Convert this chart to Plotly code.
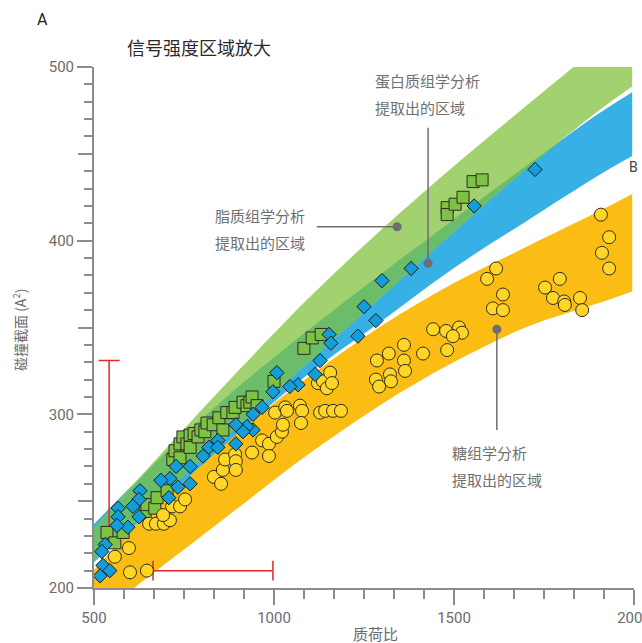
import numpy as np
import plotly.graph_objects as go

# ---------------- data ----------------
BAND_X = [500, 700, 900, 1100, 1300, 1500, 1700, 1900, 1995]
LIPID_UP = [234.5, 280.3, 324.9, 367.7, 406.7, 443.0, 477.5, 511.5, 527.0]
LIPID_LO = [216.1, 255.3, 293.3, 330.7, 367.8, 405.2, 441.2, 474.5, 488.7]
PROT_UP = [236.8, 278.3, 315.7, 349.3, 381.3, 412.4, 443.0, 472.9, 485.5]
PROT_LO = [215.0, 252.1, 289.3, 324.0, 353.9, 384.3, 411.1, 437.4, 448.7]
GLY_UP = [210.4, 254.0, 289.7, 322.2, 351.2, 375.6, 396.3, 416.6, 426.8]
GLY_LO = [182.3, 214.2, 246.1, 277.7, 306.0, 330.1, 350.1, 363.9, 370.8]

LIPID_X = [536, 558, 581, 642, 647, 669, 675, 703, 719, 725, 739, 739, 747, 758, 767, 767,
           778, 789, 797, 808, 814, 831, 847, 858, 869, 886, 892, 914, 925, 933, 939, 953,
           1000, 1083, 1106, 1131, 1481, 1481, 1503, 1525, 1553, 1578]
LIPID_Y = [232, 226, 232, 244, 248, 246, 252, 256, 274, 279, 275, 283, 287, 283, 288, 281,
           289, 287, 291, 290, 295, 294, 298, 291, 301, 301, 304, 307, 305, 307, 310, 305,
           319, 338, 344, 346, 419, 415, 421, 425, 434, 435]

PROT_X = [1725, 1556, 1381, 1300, 1250, 1283, 1233, 1153, 1158, 1128, 1114, 1067, 1044, 1008,
          997, 967, 942, 942, 925, 914, 894, 894, 844, 819, 844, 803, 767, 728, 767, 733,
          711, 686, 708, 628, 625, 608, 625, 594, 567, 567, 564, 531, 522, 525, 544, 517]
PROT_Y = [441, 420, 384, 377, 362, 354, 345, 346, 341, 331, 323, 317, 316, 324,
          313, 304, 300, 291, 293, 290, 294, 283, 285, 281, 281, 276, 270, 270, 260, 258,
          263, 262, 252, 256, 251, 247, 241, 235, 246, 241, 236, 225, 221, 213, 210, 207]

GLY_X = [558, 597, 600, 647, 653, 672, 694, 711, 692, 717, 739, 753, 833, 853, 858, 864,
         892, 894, 894, 939, 967, 986, 986, 1008, 1022, 1025, 1003, 1031, 1036, 1072, 1078,
         1075, 1122, 1136, 1147, 1156, 1161, 1128, 1142, 1164, 1186, 1283, 1292, 1322, 1325,
         1286, 1319, 1361, 1361, 1364, 1414, 1442, 1478, 1514, 1522, 1497, 1481, 1592, 1617,
         1636, 1608, 1636, 1753, 1794, 1775, 1806, 1808, 1850, 1856, 1908, 1931, 1911, 1931]
GLY_Y = [218, 223, 209, 210, 237, 237, 237, 239, 242, 247, 247, 251, 264, 260, 268, 274,
         277, 273, 268, 278, 285, 283, 276, 287, 290, 294, 301, 304, 302, 305, 302,
         295, 318, 319, 315, 324, 318, 301, 302, 302, 302, 320, 316, 323, 319,
         331, 335, 340, 331, 325, 335, 349, 348, 350, 347, 345, 337, 378, 384,
         369, 361, 360, 373, 378, 367, 365, 363, 367, 360, 415, 402, 393, 384]

VBAR_X = 542
VBAR_Y = [235, 331]
HBAR_Y = 210
HBAR_X = [664, 997]

X_TICKS = [500, 1000, 1500, 2000]
Y_TICKS = [200, 300, 400, 500]
Y_MID_TICKS = [250, 350, 450]

# annotation pointers (data coords)
LIPID_PTR_X = [1119, 1342]
LIPID_PTR_Y = 408
PROT_PTR_X = 1428
PROT_PTR_Y = [465, 387]
GLY_PTR_X = 1619
GLY_PTR_Y = [349, 291]

# ---------------- figure ----------------
W, H = 642, 643
ML, MR, MT, MB = 94, 8, 67, 55
PW, PH = W - ML - MR, H - MT - MB


def px(xp):
    return (xp - ML) / PW


def py(yp):
    return (H - MB - yp) / PH


FONT = "Roboto, 'Noto Sans CJK SC', sans-serif"
CJK = "'Noto Sans CJK SC', Roboto, sans-serif"

fig = go.Figure()


def band(x, lo, up, color):
    fig.add_trace(go.Scatter(x=x, y=lo, mode="lines", line=dict(width=0, color=color, shape="spline"),
                             hoverinfo="skip", showlegend=False))
    fig.add_trace(go.Scatter(x=x, y=up, mode="lines", line=dict(width=0, color=color, shape="spline"),
                             fill="tonexty", fillcolor=color, hoverinfo="skip", showlegend=False))


band(BAND_X, GLY_LO, GLY_UP, "#FBBD13")
band(BAND_X, PROT_LO, PROT_UP, "#36B0E5")
band(BAND_X, LIPID_LO, LIPID_UP, "#A2D26F")

# overlap of lipid & protein bands
bx = np.array(BAND_X, float)
ov_lo = np.maximum(LIPID_LO, PROT_LO)
ov_up = np.minimum(LIPID_UP, PROT_UP)
d = ov_up - ov_lo
ox, olo, oup = [], [], []
for i in range(len(bx)):
    if d[i] >= 0:
        ox.append(bx[i]); olo.append(ov_lo[i]); oup.append(ov_up[i])
    if i + 1 < len(bx) and (d[i] >= 0) != (d[i + 1] >= 0):
        t = d[i] / (d[i] - d[i + 1])
        xc = bx[i] + t * (bx[i + 1] - bx[i])
        yc = ov_lo[i] + t * (ov_lo[i + 1] - ov_lo[i])
        ox.append(xc); olo.append(yc); oup.append(yc)
band(ox, olo, oup, "#6BBD6A")

# red range bars (drawn under the markers)
RED = "#E2262B"
fig.add_trace(go.Scatter(x=[VBAR_X, VBAR_X], y=VBAR_Y, mode="lines", showlegend=False,
                         line=dict(color=RED, width=1.5), hoverinfo="skip"))
fig.add_trace(go.Scatter(x=[VBAR_X], y=[VBAR_Y[1]], mode="markers", showlegend=False,
                         marker=dict(symbol="line-ew", size=15, line=dict(color=RED, width=1.5)),
                         hoverinfo="skip"))
fig.add_trace(go.Scatter(x=HBAR_X, y=[HBAR_Y, HBAR_Y], mode="lines+markers", showlegend=False,
                         line=dict(color=RED, width=1.5),
                         marker=dict(symbol="line-ns", size=14, line=dict(color=RED, width=1.5)),
                         hoverinfo="skip"))

fig.add_trace(go.Scatter(x=LIPID_X, y=LIPID_Y, mode="markers", showlegend=False,
                         marker=dict(symbol="square", size=12, color="#7DC242",
                                     line=dict(color="#2B2B2B", width=1))))
fig.add_trace(go.Scatter(x=GLY_X, y=GLY_Y, mode="markers", showlegend=False,
                         marker=dict(symbol="circle", size=13, color="#FFD626",
                                     line=dict(color="#2B2B2B", width=1))))
fig.add_trace(go.Scatter(x=PROT_X, y=PROT_Y, mode="markers", showlegend=False,
                         marker=dict(symbol="diamond", size=11, color="#139DD9",
                                     line=dict(color="#1A1A1A", width=1))))

GREY = "#6D6E71"
fig.add_trace(go.Scatter(x=LIPID_PTR_X, y=[LIPID_PTR_Y, LIPID_PTR_Y], mode="lines", showlegend=False,
                         line=dict(color=GREY, width=1.5), hoverinfo="skip"))
fig.add_trace(go.Scatter(x=[PROT_PTR_X, PROT_PTR_X], y=PROT_PTR_Y, mode="lines", showlegend=False,
                         line=dict(color=GREY, width=1.5), hoverinfo="skip"))
fig.add_trace(go.Scatter(x=[GLY_PTR_X, GLY_PTR_X], y=GLY_PTR_Y, mode="lines", showlegend=False,
                         line=dict(color=GREY, width=1.5), hoverinfo="skip"))
fig.add_trace(go.Scatter(x=[LIPID_PTR_X[1], PROT_PTR_X, GLY_PTR_X],
                         y=[LIPID_PTR_Y, PROT_PTR_Y[1], GLY_PTR_Y[0]],
                         mode="markers", showlegend=False, hoverinfo="skip",
                         marker=dict(size=9, color=GREY)))

# invisible trace to carry the secondary y axis (mid ticks 250/350/450)
fig.add_trace(go.Scatter(x=[None], y=[None], yaxis="y2", showlegend=False, hoverinfo="skip"))

AX = "#8C8C8C"
fig.update_layout(
    xaxis=dict(range=[500, 2000], showline=True, linecolor=AX, linewidth=2,
               ticks="outside", ticklen=15, tickwidth=1.5, tickcolor=AX,
               tickvals=X_TICKS, ticktext=[str(v) for v in X_TICKS],
               tickfont=dict(family=FONT, size=15, color="#6B6B6B"),
               ticklabeloverflow="allow", automargin=False,
               showgrid=False, zeroline=False,
               minor=dict(ticks="outside", ticklen=9, tick0=500, dtick=500 / 6,
                          tickcolor=AX, tickwidth=1.5, showgrid=False)),
    yaxis=dict(range=[200, 500], showline=True, linecolor=AX, linewidth=2,
               ticks="outside", ticklen=15, tickwidth=1.5, tickcolor=AX,
               tickvals=Y_TICKS, ticktext=[str(v) for v in Y_TICKS],
               tickfont=dict(family=FONT, size=15, color="#6B6B6B"),
               automargin=False,
               showgrid=False, zeroline=False,
               minor=dict(ticks="outside", ticklen=8, tick0=200, dtick=10,
                          tickcolor=AX, tickwidth=1.5, showgrid=False)),
    yaxis2=dict(range=[200, 500], overlaying="y", side="left", anchor="x",
                showline=False, ticks="outside", ticklen=15, tickwidth=1.5, tickcolor=AX,
                tickvals=Y_MID_TICKS, showticklabels=False, automargin=False,
                showgrid=False, zeroline=False),
)

anns = []


def txt(x, y, s, size=15, color="#707070", xanchor="left", angle=0, family=CJK):
    anns.append(dict(x=px(x), y=py(y), xref="paper", yref="paper", text=s, showarrow=False,
                     xanchor=xanchor, yanchor="middle", textangle=angle,
                     font=dict(family=family, size=size, color=color)))


txt(35, 20, "A", size=16, color="#222222", family=FONT)
txt(125, 47, "信号强度区域放大", size=18, color="#2A2A2A")
txt(213, 215, "脂质组学分析")
txt(213, 242, "提取出的区域")
txt(373, 80, "蛋白质组学分析")
txt(373, 107, "提取出的区域")
txt(450, 452, "糖组学分析")
txt(450, 479, "提取出的区域")
txt(627, 167, "B", size=14, color="#444444", family=FONT)
txt(375, 633, "质荷比", size=15, color="#6B6B6B", xanchor="center")
txt(19, 330, "碰撞截面 (A<sup>2</sup>)", size=14, color="#6B6B6B", xanchor="center", angle=-90)

fig.update_layout(width=W, height=H, margin=dict(l=ML, r=MR, t=MT, b=MB),
                  plot_bgcolor="white", paper_bgcolor="white", showlegend=False,
                  annotations=anns)

fig.write_html("out.html")
